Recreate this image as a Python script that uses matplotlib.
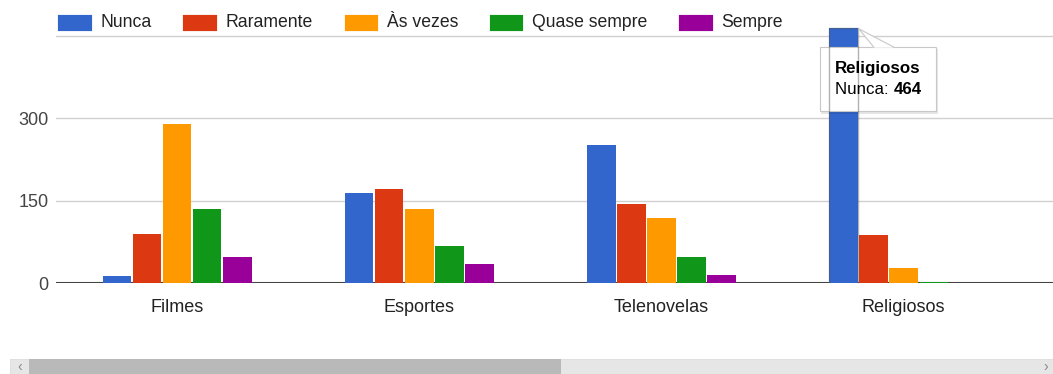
import matplotlib
matplotlib.use("Agg")
import matplotlib.pyplot as plt
from matplotlib.patches import Rectangle, Polygon
import numpy as np

# ---- data -------------------------------------------------------------
categories = ["Filmes", "Esportes", "Telenovelas", "Religiosos"]
series_names = ["Nunca", "Raramente", "Às vezes", "Quase sempre", "Sempre"]
nunca = [14, 164, 251, 464]
raramente = [90, 172, 145, 87]
as_vezes = [290, 136, 118, 27]
quase_sempre = [136, 68, 47, 3]
sempre = [47, 36, 16, 0]
series_values = [nunca, raramente, as_vezes, quase_sempre, sempre]
y_ticks = [0, 150, 300, 450]
y_tick_labels = ["0", "150", "300", ""]
colors = ["#3366cc", "#dc3912", "#ff9900", "#109618", "#990099"]

# tooltip shown for one bar (series index, category index)
tip_series, tip_cat = 0, 3

plt.rcParams["font.family"] = ["Liberation Sans", "DejaVu Sans"]

W, H = 1053, 374
fig = plt.figure(figsize=(W / 100, H / 100), dpi=100)

# chart area in pixel terms
left_px, base_px = 56, 283.3
px_per_unit = 0.55
y_top = 470
ax = fig.add_axes([left_px / W, (H - base_px) / H,
                   (W - left_px) / W, y_top * px_per_unit / H])

cat_px = 242.2
pitch = 30.1 / cat_px
bar_w = pitch * 0.95
x = np.arange(len(categories))
for j, (vals, col) in enumerate(zip(series_values, colors)):
    ax.bar(x + (j - 2) * pitch, vals, width=bar_w, color=col,
           linewidth=0, zorder=3)

ax.set_xlim(-0.5, -0.5 + (W - left_px) / cat_px)
ax.set_ylim(0, y_top)
ax.set_yticks(y_ticks)
ax.set_yticklabels(y_tick_labels)
ax.set_xticks(x)
ax.set_xticklabels(categories)
ax.yaxis.grid(True, color="#d0d0d0", linewidth=1.0, zorder=0)
ax.set_axisbelow(True)
for s in ax.spines.values():
    s.set_visible(False)
ax.axhline(0, color="#444444", linewidth=1.5, zorder=2.5)
ax.tick_params(axis="x", length=0, pad=11, labelsize=13, labelcolor="#222222")
ax.tick_params(axis="y", length=0, pad=5.5, labelsize=13, labelcolor="#444444")

# ---- overlay in pixel coordinates for legend, tooltip, scrollbar ----
ov = fig.add_axes([0, 0, 1, 1], zorder=10)
ov.set_xlim(0, W)
ov.set_ylim(H, 0)
ov.axis("off")
ov.patch.set_alpha(0)

fig.canvas.draw()
renderer = fig.canvas.get_renderer()

# legend
lx = 57
sw_w, sw_h, sw_top = 34.5, 17, 13.5
for name, col in zip(series_names, colors):
    ov.add_patch(Rectangle((lx, sw_top), sw_w, sw_h, facecolor=col,
                           edgecolor="white", linewidth=0.6))
    t = ov.text(lx + sw_w + 9, sw_top + sw_h / 2 + 0.5, name, fontsize=12.7,
                color="#222222", va="center", ha="left")
    tw = t.get_window_extent(renderer).width
    lx = lx + sw_w + 9 + tw + 30.5

# tooltip attached to the highlighted bar
bx = tip_cat + (tip_series - 2) * pitch
val = series_values[tip_series][tip_cat]
(x0d, y0d) = ax.transData.transform((bx - bar_w / 2, val))
(x1d, _) = ax.transData.transform((bx + bar_w / 2, val))
bar_l, bar_r, bar_t = x0d, x1d, H - y0d
# soft outline on the sides and top of the highlighted bar
ov.plot([bar_l - 0.5, bar_l - 0.5, bar_r + 0.5, bar_r + 0.5],
        [base_px - 1, bar_t, bar_t, base_px - 1],
        color="#555555", alpha=0.45, lw=1.0)

apex_x, apex_y = bar_r + 1, bar_t + 0.7
box_l, box_t, box_w, box_h = bar_l - 9, bar_t + 19, 116, 64
ov.add_patch(Rectangle((box_l + 1, box_t + 1.5), box_w + 1, box_h + 1,
                       facecolor="#000000", alpha=0.10, linewidth=0))
ov.add_patch(Rectangle((box_l, box_t), box_w, box_h, facecolor="white",
                       edgecolor="#c8c8c8", linewidth=0.8))
b1, b2 = apex_x + 15, apex_x + 35
ov.add_patch(Polygon([(apex_x, apex_y), (b1, box_t + 0.6), (b2, box_t + 0.6)],
                     closed=True, facecolor="white", edgecolor="none"))
ov.plot([b1, apex_x, b2], [box_t, apex_y, box_t], color="#c8c8c8", lw=0.8)

ov.text(box_l + 15, box_t + 21, categories[tip_cat], fontsize=12.2,
        fontweight="bold", color="#000000", va="center", ha="left")
t1 = ov.text(box_l + 15, box_t + 42.5, series_names[tip_series] + ": ",
             fontsize=12.2, color="#000000", va="center", ha="left")
w1 = t1.get_window_extent(renderer).width
ov.text(box_l + 15 + w1, box_t + 42.5, str(val), fontsize=12.2,
        fontweight="bold", color="#000000", va="center", ha="left")

# horizontal scrollbar
ov.add_patch(Rectangle((10, 358.5), W - 10, 16, facecolor="#e6e6e6",
                       edgecolor="#dcdcdc", linewidth=0.6))
ov.add_patch(Rectangle((29, 359.2), 532, 15, facecolor="#b9b9b9",
                       linewidth=0))
ov.text(19.5, 366.5, "‹", fontsize=10, color="#8a8a8a", ha="center", va="center")
ov.text(1046, 366.5, "›", fontsize=10, color="#8a8a8a", ha="center", va="center")

fig.savefig("out.png", dpi=100)
